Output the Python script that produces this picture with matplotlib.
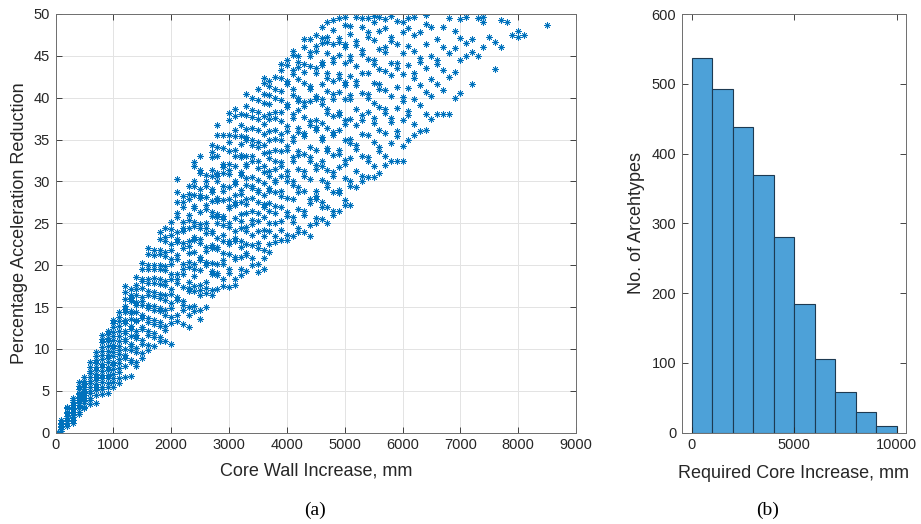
import matplotlib
matplotlib.use("Agg")
import matplotlib.pyplot as plt
import numpy as np

plt.rcParams['font.family'] = ['Liberation Sans', 'DejaVu Sans']

# scatter (a): core wall increase columns (mm) and the reduction values read in each column
wall_cols = [0, 100, 200, 300, 400, 500, 600, 700, 800, 900,
             1000, 1100, 1200, 1300, 1400, 1500, 1600, 1700, 1800, 1900,
             2000, 2100, 2200, 2300, 2400, 2500, 2600, 2700, 2800, 2900,
             3000, 3100, 3200, 3300, 3400, 3500, 3600, 3700, 3800, 3900,
             4000, 4100, 4200, 4300, 4400, 4500, 4600, 4700, 4800, 4900,
             5000, 5100, 5200, 5300, 5400, 5500, 5600, 5700, 5800, 5900,
             6000, 6100, 6200, 6300, 6400, 6500, 6600, 6700, 6800, 6900,
             7000, 7100, 7200, 7300, 7400, 7500, 7600, 7700, 7800, 7900,
             8000, 8100, 8500]

reduction_cols = [
    [0.0, 0.1],
    [0.0, 0.2, 0.4, 0.7, 0.8, 1.0, 1.2, 1.5],
    [0.8, 1.2, 1.4, 1.8, 2.0, 2.3, 2.5, 2.9, 3.1],
    [1.2, 1.5, 1.9, 2.1, 2.5, 2.8, 3.0, 3.3, 3.7, 3.9, 4.2],
    [2.2, 2.5, 2.9, 3.3, 3.5, 3.9, 4.3, 4.6, 4.8, 5.2, 5.6, 6.0],
    [2.9, 3.1, 3.6, 3.8, 4.2, 4.5, 4.9, 5.2, 5.5, 5.8, 6.2, 6.6],
    [3.4, 3.9, 4.2, 4.7, 5.0, 5.4, 5.9, 6.2, 6.6, 7.1, 7.4, 7.9, 8.4],
    [3.5, 4.5, 5.1, 5.4, 5.8, 6.3, 6.6, 7.0, 7.5, 7.8, 8.3, 8.7, 9.2, 9.6],
    [4.6, 5.2, 5.5, 6.1, 6.5, 6.9, 7.4, 7.9, 8.2, 8.8, 9.3, 9.7, 10.2, 10.8, 11.2, 11.7],
    [4.8, 5.5, 5.9, 6.5, 6.9, 7.5, 7.9, 8.4, 8.9, 9.3, 9.8, 10.4, 10.9, 11.3, 11.8, 12.1],
    [5.5, 6.1, 6.5, 7.0, 7.6, 8.1, 8.5, 9.1, 9.6, 10.1, 10.5, 11.1, 11.6, 12.0, 12.6, 13.1, 13.5],
    [5.9, 6.5, 7.2, 7.7, 8.3, 8.8, 9.4, 9.9, 10.4, 11.0, 11.5, 12.1, 12.7, 13.3, 13.8, 14.4],
    [6.6, 8.0, 8.9, 9.3, 10.0, 10.9, 11.2, 11.9, 12.2, 13.1, 13.5, 14.4, 14.8, 15.1, 16.0, 16.8, 17.5],
    [6.8, 8.4, 8.7, 9.9, 10.3, 10.6, 11.5, 12.4, 12.7, 13.6, 14.3, 14.5, 15.7, 16.1, 16.4, 17.2],
    [8.0, 8.5, 9.6, 10.1, 11.3, 11.7, 12.2, 13.3, 13.5, 14.4, 15.3, 15.6, 16.5, 17.2, 17.6, 18.6],
    [8.9, 9.5, 10.6, 11.1, 12.4, 12.6, 13.7, 14.1, 15.3, 15.7, 16.2, 17.3, 18.1, 18.4, 19.5, 20.3],
    [9.9, 10.5, 11.7, 12.2, 13.2, 13.7, 14.9, 15.3, 16.4, 16.9, 17.9, 18.4, 19.5, 20.0, 21.3, 22.0],
    [10.3, 11.4, 11.9, 13.0, 13.5, 14.6, 15.1, 16.3, 16.8, 17.9, 18.5, 19.6, 20.0, 21.2, 21.8],
    [10.9, 11.4, 12.7, 13.2, 14.5, 14.9, 16.1, 16.6, 17.8, 18.3, 19.6, 20.0, 21.3, 21.8, 23.1, 24.0],
    [11.0, 12.3, 12.8, 14.0, 14.6, 15.8, 16.4, 17.6, 18.1, 19.4, 19.9, 21.1, 21.6, 22.9, 23.4, 24.5],
    [10.6, 13.1, 13.8, 14.9, 15.5, 16.6, 17.2, 18.3, 19.0, 20.1, 20.7, 21.8, 22.5, 23.6, 24.3, 25.2],
    [13.3, 14.0, 15.8, 16.2, 17.9, 18.3, 18.9, 20.7, 21.2, 22.8, 23.1, 24.0, 25.7, 26.2, 27.6, 28.8, 30.3],
    [13.0, 14.6, 15.2, 15.7, 17.4, 19.0, 19.5, 20.2, 22.0, 22.6, 24.1, 24.5, 25.2, 27.0, 27.5, 28.3],
    [12.6, 14.1, 15.0, 16.9, 17.3, 18.0, 19.8, 20.4, 21.5, 22.3, 22.9, 24.4, 25.4, 26.0, 27.9, 28.5, 29.5],
    [14.5, 15.1, 16.9, 17.5, 18.7, 19.6, 20.1, 21.6, 23.0, 23.4, 24.7, 25.2, 26.8, 27.1, 28.4, 29.5, 30.1, 31.8, 32.3],
    [13.6, 14.7, 16.5, 17.0, 17.6, 19.4, 20.6, 21.0, 22.6, 23.1, 24.5, 24.9, 26.3, 28.0, 28.4, 29.1, 31.0, 31.4, 33.0],
    [15.0, 16.7, 17.3, 18.0, 20.0, 20.4, 21.7, 22.2, 23.9, 24.4, 25.1, 26.7, 27.2, 28.1, 29.5, 30.0, 30.8],
    [16.5, 17.1, 19.0, 19.3, 20.3, 22.0, 22.4, 23.8, 24.1, 25.9, 26.3, 27.7, 28.8, 29.1, 30.7, 31.4, 32.9, 33.5, 34.4],
    [17.2, 18.8, 19.1, 20.2, 21.9, 22.2, 23.2, 25.0, 25.7, 26.1, 27.7, 28.0, 30.0, 30.6, 31.0, 33.0, 34.1, 35.5, 36.8],
    [17.5, 18.3, 20.2, 20.6, 21.4, 22.9, 23.6, 24.8, 25.5, 25.9, 27.8, 28.9, 29.5, 31.0, 31.7, 32.1, 34.0, 35.5],
    [17.4, 19.1, 19.5, 21.3, 22.5, 22.9, 24.6, 25.0, 26.8, 27.1, 27.9, 29.3, 30.9, 31.4, 32.1, 33.6, 34.7, 35.6, 37.4, 38.2],
    [17.6, 18.4, 20.7, 21.0, 22.9, 23.3, 24.1, 25.6, 27.2, 27.6, 28.4, 29.7, 30.0, 31.8, 33.0, 33.7, 35.4, 36.1, 37.8, 38.6],
    [18.8, 19.5, 21.0, 22.2, 22.9, 24.4, 25.3, 26.1, 27.5, 28.5, 29.0, 30.8, 31.1, 32.9, 33.2, 34.5, 35.4, 36.8, 38.0],
    [19.3, 21.2, 21.5, 22.5, 24.1, 24.6, 26.2, 27.3, 27.9, 29.6, 30.4, 31.8, 32.1, 33.0, 35.0, 35.3, 36.3, 37.9, 39.0, 40.5],
    [20.0, 20.9, 22.4, 23.6, 24.9, 25.4, 26.5, 28.0, 29.2, 29.5, 30.5, 32.5, 33.0, 34.3, 35.0, 36.4, 37.7, 38.5, 40.0],
    [19.2, 20.2, 22.1, 22.7, 24.1, 25.3, 26.2, 27.6, 28.7, 29.0, 30.2, 31.6, 32.5, 34.1, 34.7, 36.1, 37.5, 38.3, 39.7, 41.0],
    [19.5, 20.9, 21.8, 23.5, 24.2, 25.7, 27.0, 27.3, 28.4, 29.8, 31.1, 31.8, 33.4, 34.3, 35.7, 36.9, 37.8, 39.4, 40.4, 41.8, 42.4],
    [21.6, 22.5, 24.1, 25.0, 26.5, 27.4, 28.9, 29.2, 30.6, 31.3, 32.8, 33.5, 35.0, 36.0, 37.5, 38.0, 39.3, 40.3, 41.4, 42.0],
    [22.8, 23.5, 25.1, 26.2, 27.1, 28.7, 29.9, 30.2, 31.5, 32.4, 33.7, 35.1, 36.1, 37.6, 38.3, 40.0, 41.0, 42.5],
    [23.0, 24.2, 25.3, 26.9, 28.3, 28.9, 30.7, 31.9, 32.3, 33.6, 35.0, 35.7, 37.2, 38.3, 39.7, 40.8, 42.3, 43.3, 44.0],
    [23.0, 23.6, 25.9, 26.4, 28.0, 30.1, 30.6, 31.2, 33.8, 34.2, 36.0, 36.6, 38.9, 39.3, 41.6, 42.0, 43.9, 44.5],
    [23.5, 25.2, 25.7, 27.9, 29.6, 30.0, 32.4, 32.9, 34.8, 35.3, 37.6, 38.0, 40.3, 41.1, 42.8, 43.3, 45.1, 45.6],
    [24.0, 24.5, 26.7, 28.8, 29.3, 31.5, 33.2, 33.6, 35.9, 36.4, 38.5, 39.6, 40.0, 42.2, 43.7, 44.3, 45.0],
    [24.0, 26.0, 26.5, 28.9, 30.7, 31.2, 33.3, 35.4, 35.8, 37.7, 39.0, 39.5, 41.8, 43.1, 44.0, 46.1, 47.0],
    [23.5, 24.8, 27.4, 27.9, 30.3, 32.5, 32.9, 34.1, 36.7, 37.2, 39.6, 41.0, 41.4, 43.8, 45.0, 45.5, 47.0],
    [25.0, 25.6, 27.9, 28.3, 28.9, 31.5, 32.0, 33.7, 36.1, 36.5, 37.4, 39.8, 40.2, 42.9, 43.5, 45.6, 46.2, 47.5],
    [25.5, 27.0, 27.6, 30.2, 31.9, 32.4, 34.9, 35.3, 37.0, 39.3, 39.8, 41.6, 43.9, 44.3, 46.5, 47.1, 48.4],
    [25.0, 26.9, 29.3, 29.8, 31.4, 33.6, 34.0, 36.4, 38.2, 38.6, 40.8, 42.4, 42.9, 45.3, 46.7, 47.2, 49.0],
    [26.0, 26.5, 28.7, 30.6, 31.1, 33.2, 35.5, 35.9, 37.8, 39.9, 40.4, 42.0, 44.3, 44.8, 46.4, 48.1, 49.3],
    [26.5, 28.6, 29.0, 31.7, 33.3, 33.8, 36.2, 37.9, 38.3, 40.7, 42.3, 42.8, 45.1, 46.6, 47.1, 49.5],
    [27.2, 27.8, 30.4, 32.1, 32.6, 35.0, 36.9, 37.3, 39.8, 41.5, 41.9, 44.2, 46.0, 46.4, 48.7, 49.6],
    [27.2, 29.5, 30.0, 32.8, 34.6, 35.1, 37.5, 39.9, 40.3, 42.6, 44.5, 45.0, 47.6, 48.6],
    [29.3, 31.2, 33.9, 34.4, 36.8, 38.7, 41.5, 42.0, 43.8, 46.3, 46.8, 49.7],
    [30.0, 30.6, 33.1, 35.7, 37.4, 37.9, 40.6, 43.0, 45.2, 45.7, 48.4, 49.5],
    [30.5, 32.4, 32.9, 35.5, 38.3, 40.0, 40.5, 42.9, 44.6, 47.3, 47.8, 49.5],
    [30.5, 31.9, 34.7, 37.0, 37.6, 39.4, 41.8, 44.0, 44.5, 46.9, 49.1, 49.8],
    [31.0, 33.6, 34.1, 36.2, 38.9, 41.1, 41.6, 43.4, 45.8, 48.0, 49.6],
    [32.0, 33.0, 35.8, 38.2, 38.7, 40.9, 43.2, 45.5, 46.0, 48.3, 49.4],
    [32.5, 34.6, 37.1, 37.6, 40.2, 42.7, 44.1, 46.8, 47.3, 49.8],
    [32.5, 35.4, 36.0, 38.8, 41.3, 43.6, 44.2, 46.4, 49.2],
    [32.5, 34.2, 37.3, 39.6, 40.1, 42.8, 45.4, 47.9, 49.0],
    [35.0, 37.9, 38.4, 41.2, 43.9, 46.2, 48.3, 49.5],
    [35.5, 36.9, 39.8, 42.4, 42.9, 45.6, 47.5, 49.7],
    [36.0, 39.1, 41.5, 44.3, 44.8, 47.8],
    [36.2, 38.0, 40.7, 43.6, 46.4, 48.8, 49.9],
    [37.5, 40.2, 42.2, 45.0, 48.5],
    [38.0, 41.7, 44.0, 44.5, 47.0],
    [38.0, 40.9, 43.3, 46.1, 48.5],
    [38.0, 42.5, 45.4, 49.5],
    [40.0, 43.1, 45.9, 48.0],
    [40.6, 44.5, 47.1, 49.4],
    [45.0, 46.5, 49.7],
    [41.6, 45.5, 47.0],
    [45.0, 49.5],
    [46.0, 49.0, 49.6],
    [47.2],
    [43.4, 46.6],
    [46.0, 49.3],
    [49.0],
    [47.5],
    [47.2, 48.0],
    [47.5],
    [48.7],
]

# histogram (b)
bin_edges = [0, 1000, 2000, 3000, 4000, 5000, 6000, 7000, 8000, 9000, 10000]
archetype_counts = [537, 493, 438, 369, 281, 185, 106, 59, 30, 9]

wall_x = []
red_y = []
for xc, ys in zip(wall_cols, reduction_cols):
    for yv in ys:
        wall_x.append(xc)
        red_y.append(yv)

txt = '#262626'
fig = plt.figure(figsize=(9.21, 5.24), dpi=100)

ax1 = fig.add_axes([55.5/921, 1-432.7/524, 520.5/921, 418.7/524])
ax1.plot(wall_x, red_y, linestyle='none', marker=(8, 2, 0), markersize=4.5,
         markeredgewidth=0.55, color='#0072BD')
ax1.set_xlim(0, 9000)
ax1.set_ylim(0, 50)
ax1.set_xticks(np.arange(0, 9001, 1000))
ax1.set_yticks(np.arange(0, 51, 5))
ax1.grid(True, color='#e3e3e3', linewidth=0.7)
ax1.set_axisbelow(True)
ax1.set_xlabel('Core Wall Increase, mm', fontsize=13, color=txt)
ax1.set_ylabel('Percentage Acceleration Reduction', fontsize=13, color=txt)
ax1.xaxis.set_label_coords(0.5, -0.07)
ax1.yaxis.set_label_coords(-0.052, 0.5)

ax2 = fig.add_axes([681.7/921, 1-432.7/524, 224/921, 418.7/524])
ax2.bar(bin_edges[:-1], archetype_counts, width=np.diff(bin_edges), align='edge',
        color='#4DA1D8', edgecolor='#1d3a52', linewidth=0.8)
ax2.set_xlim(-490, 10440)
ax2.set_ylim(0, 600)
ax2.set_xticks([0, 5000, 10000])
ax2.set_yticks(np.arange(0, 601, 100))
ax2.set_xlabel('Required Core Increase, mm', fontsize=13, color=txt)
ax2.set_ylabel('No. of Arcehtypes', fontsize=13, color=txt)
ax2.xaxis.set_label_coords(0.5, -0.077)
ax2.yaxis.set_label_coords(-0.165, 0.5)

for ax in (ax1, ax2):
    ax.tick_params(direction='in', length=4, width=0.6, top=True, right=True,
                   labelsize=10.5, colors=txt, pad=4)
    for s in ax.spines.values():
        s.set_color('#6e6e6e')
        s.set_linewidth(0.7)

fig.text(315/921, 1-510/524, '(a)', fontsize=14, family='Liberation Serif',
         ha='center', va='center')
fig.text(768/921, 1-510/524, '(b)', fontsize=14, family='Liberation Serif',
         ha='center', va='center')

fig.savefig('out.png', dpi=100)
